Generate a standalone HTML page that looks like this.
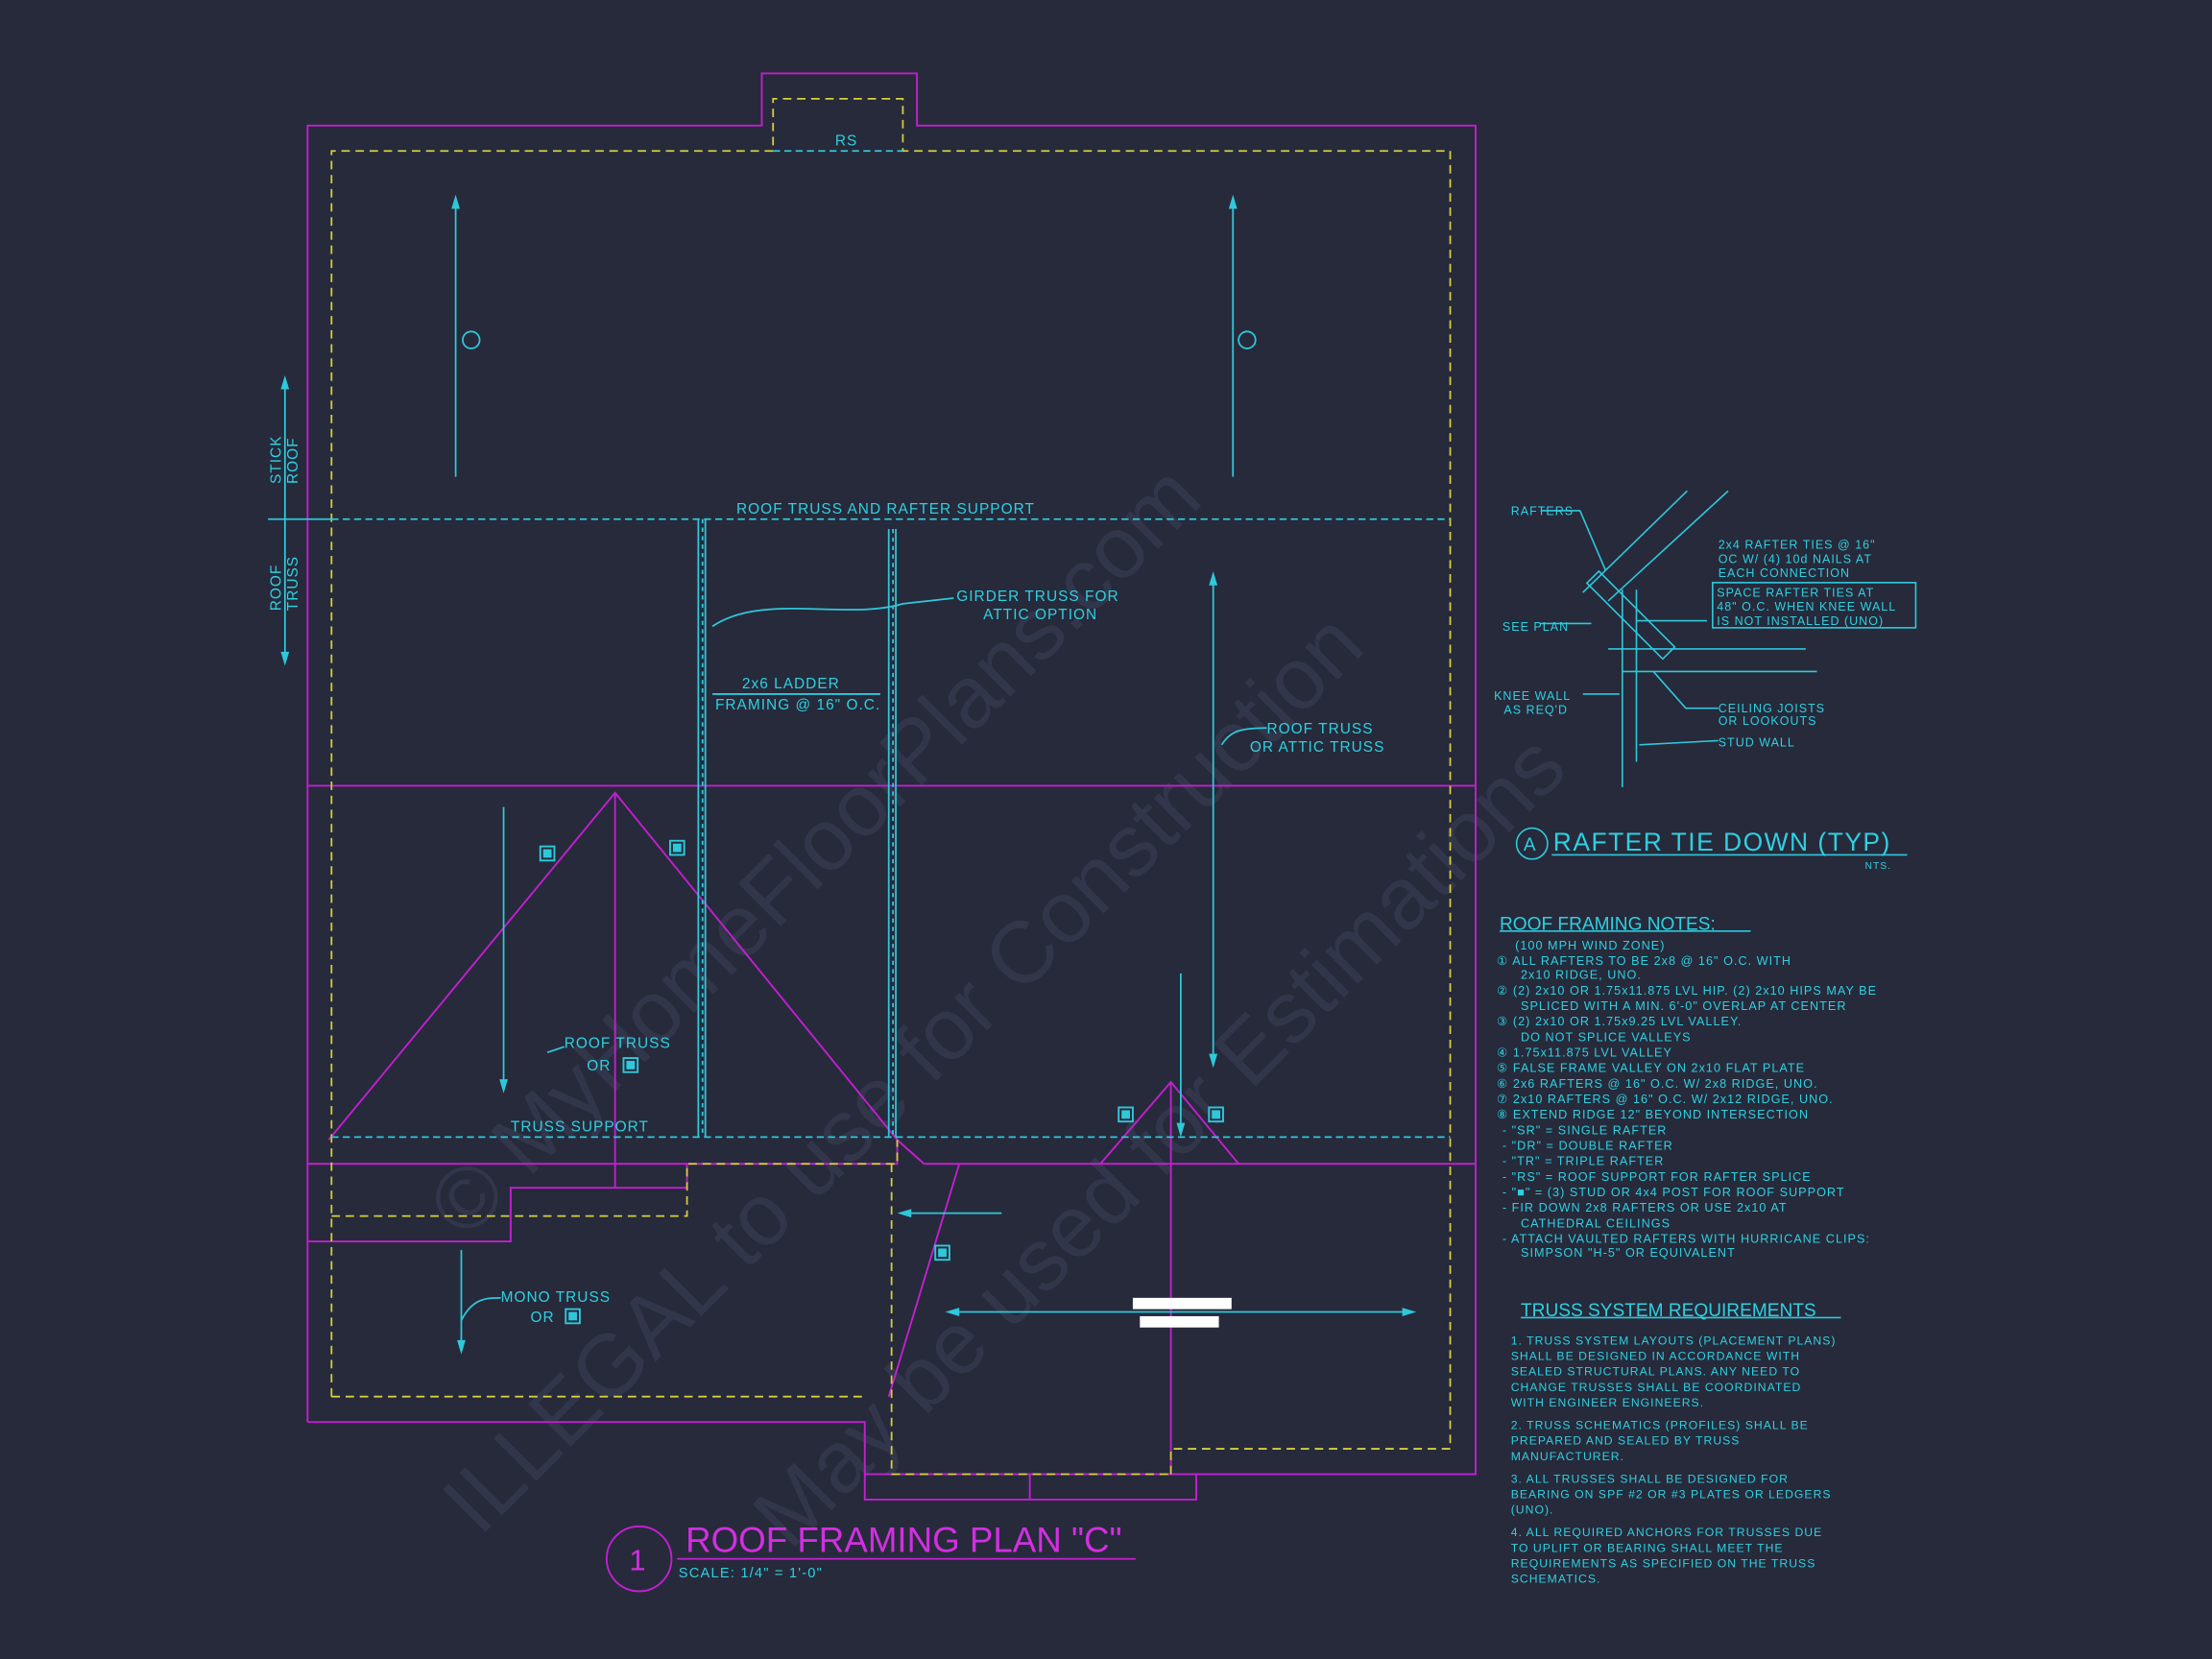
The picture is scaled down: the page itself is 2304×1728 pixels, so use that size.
<!DOCTYPE html>
<html><head><meta charset="utf-8"><style>
html,body{margin:0;padding:0;background:#262a3b;}
svg{display:block}
text{font-family:"Liberation Sans",sans-serif;fill:#2fd0e0;}
.n text{letter-spacing:0.7px}
</style></head><body>
<svg width="2304" height="1728" viewBox="0 0 1568 1176" xmlns="http://www.w3.org/2000/svg">
<rect width="1568" height="1176" fill="#262a3b"/>
<g font-family="Liberation Serif,serif">
<text x="0" y="0" font-size="62" transform="translate(330,880) rotate(-45)" style="fill:#32364a">© MyHomeFloorPlans.com</text>
<text x="0" y="0" font-size="62" transform="translate(340,1090) rotate(-45)" style="fill:#32364a">ILLEGAL to use for Construction</text>
<text x="0" y="0" font-size="62" transform="translate(560,1100) rotate(-45)" style="fill:#32364a">May be used for Estimations</text>
</g>
<g fill="none" stroke="#c21fcf" stroke-width="1.3">
<polyline points="218,1008 218,89 540,89 540,52 650,52 650,89 1046,89 1046,1045 848,1045 848,1063 613,1063 613,1008 218,1008"/>
<line x1="218" y1="557" x2="1046" y2="557"/>
<line x1="218" y1="825" x2="487" y2="825"/>
<line x1="655" y1="825" x2="1046" y2="825"/>
<polyline points="233,808 436,562 636,808"/>
<line x1="436" y1="562" x2="436" y2="842"/>
<polyline points="780,825 830,767 878,825"/>
<line x1="830" y1="767" x2="830" y2="1045"/>
<polyline points="218,880 362,880 362,842 487,842 487,825 636,825 636,808 655,825"/>
<line x1="680" y1="825" x2="630" y2="990"/>
<line x1="730" y1="1045" x2="730" y2="1063"/>
<line x1="613" y1="1045" x2="848" y2="1045"/>
</g>
<g fill="none" stroke="#d6cf3c" stroke-width="1.2" stroke-dasharray="6,4">
<polyline points="235,990 235,107 548,107 548,70 640,70 640,107 1028,107 1028,1027 830,1027 830,1045"/>
<polyline points="235,990 613,990"/>
<polyline points="235,862 487,862 487,825 636,825 636,808"/>
<polyline points="632,825 632,1045 830,1045"/>
</g>
<g fill="none" stroke="#2fc8da" stroke-width="1.2">
<line x1="235" y1="368" x2="1028" y2="368" stroke-dasharray="5,3"/>
<line x1="548" y1="107" x2="640" y2="107" stroke-dasharray="5,3"/>
<line x1="235" y1="806" x2="1028" y2="806" stroke-dasharray="5,3"/>
<line x1="495" y1="368" x2="495" y2="806"/><line x1="500" y1="368" x2="500" y2="806"/><line x1="498" y1="368" x2="498" y2="806" stroke-dasharray="3,3"/>
<line x1="630" y1="375" x2="630" y2="806"/><line x1="635" y1="375" x2="635" y2="806"/><line x1="633" y1="375" x2="633" y2="806" stroke-dasharray="3,3"/>
<line x1="323" y1="142" x2="323" y2="338"/>
<line x1="874" y1="142" x2="874" y2="338"/>
<line x1="860" y1="410" x2="860" y2="752"/>
<line x1="357" y1="572" x2="357" y2="770"/>
<line x1="837" y1="690" x2="837" y2="802"/>
<line x1="327" y1="886" x2="327" y2="956"/>
<line x1="675" y1="930" x2="1000" y2="930"/>
<line x1="505" y1="492" x2="624" y2="492"/>
<line x1="640" y1="860" x2="710" y2="860"/>
<line x1="202" y1="270" x2="202" y2="468"/>
<line x1="190" y1="368" x2="235" y2="368"/>
<path d="M505,444 C540,420 600,440 640,428 L676,424"/>
<path d="M866,528 C872,518 880,516 898,516"/>
<path d="M388,746 L400,742"/>
<path d="M327,936 C335,920 345,920 355,920"/>
<circle cx="334" cy="241" r="6"/><circle cx="884" cy="241" r="6"/>
</g>
<g fill="#2fc8da">
<polygon points="323,138 320,148 326,148"/><polygon points="874,138 871,148 877,148"/>
<polygon points="860,405 857,415 863,415"/><polygon points="860,757 857,747 863,747"/>
<polygon points="357,775 354,765 360,765"/><polygon points="837,806 834,796 840,796"/>
<polygon points="327,960 324,950 330,950"/><polygon points="670,930 680,927 680,933"/><polygon points="1004,930 994,927 994,933"/>
<polygon points="636,860 646,857 646,863"/><polygon points="202,266 199,276 205,276"/><polygon points="202,472 199,462 205,462"/>
<rect x="385" y="602" width="6" height="6"/><rect x="477" y="598" width="6" height="6"/><rect x="444" y="752" width="6" height="6"/>
<rect x="795" y="787" width="6" height="6"/><rect x="859" y="787" width="6" height="6"/><rect x="665" y="885" width="6" height="6"/><rect x="403" y="930" width="6" height="6"/>
</g>
<g fill="none" stroke="#2fc8da" stroke-width="1.3">
<rect x="383" y="600" width="10" height="10"/><rect x="475" y="596" width="10" height="10"/><rect x="442" y="750" width="10" height="10"/>
<rect x="793" y="785" width="10" height="10"/><rect x="857" y="785" width="10" height="10"/><rect x="663" y="883" width="10" height="10"/><rect x="401" y="928" width="10" height="10"/>
</g>
<rect x="803" y="920" width="70" height="8" fill="#fff"/><rect x="808" y="933" width="56" height="8" fill="#fff"/>
<g font-size="10.5" class="n">
<text x="592" y="103">RS</text>
<text x="522" y="364">ROOF TRUSS AND RAFTER SUPPORT</text>
<text x="678" y="426">GIRDER TRUSS FOR</text><text x="697" y="439">ATTIC OPTION</text>
<text x="526" y="488">2x6 LADDER</text><text x="507" y="503">FRAMING @ 16" O.C.</text>
<text x="898" y="520">ROOF TRUSS</text><text x="886" y="533">OR ATTIC TRUSS</text>
<text x="400" y="743">ROOF TRUSS</text><text x="416" y="759">OR</text>
<text x="362" y="802">TRUSS SUPPORT</text>
<text x="355" y="923">MONO TRUSS</text><text x="376" y="937">OR</text>
<text x="0" y="0" transform="translate(199,343) rotate(-90)">STICK</text>
<text x="0" y="0" transform="translate(211,343) rotate(-90)">ROOF</text>
<text x="0" y="0" transform="translate(199,433) rotate(-90)">ROOF</text>
<text x="0" y="0" transform="translate(211,433) rotate(-90)">TRUSS</text>
</g>
<circle cx="453" cy="1105" r="23" fill="none" stroke="#c21fcf" stroke-width="1.3"/>
<text x="446" y="1113" font-size="21" style="fill:#d22fe0">1</text>
<text x="486" y="1100" font-size="25" style="fill:#d22fe0">ROOF FRAMING PLAN "C"</text>
<line x1="480" y1="1105" x2="805" y2="1105" stroke="#c21fcf" stroke-width="1.3"/>
<text x="481" y="1118" font-size="10" style="letter-spacing:0.8px">SCALE: 1/4" = 1'-0"</text>
<g fill="none" stroke="#2fc8da" stroke-width="1.1">
<line x1="1122" y1="420" x2="1196" y2="348"/><line x1="1140" y1="426" x2="1225" y2="348"/>
<line x1="1150" y1="418" x2="1150" y2="558"/><line x1="1160" y1="418" x2="1160" y2="540"/>
<line x1="1150" y1="476" x2="1288" y2="476"/><line x1="1140" y1="460" x2="1280" y2="460"/>
<rect x="1150" y="398" width="12" height="76" transform="rotate(-45 1156 436)"/>
<line x1="1160" y1="440" x2="1210" y2="440"/>
<rect x="1214" y="413" width="144" height="32"/>
<path d="M1092,362 L1120,362 L1138,404"/><path d="M1092,442 L1128,442"/><path d="M1122,492 L1148,492"/>
<path d="M1172,476 L1195,502 L1218,502"/><path d="M1162,528 L1218,525"/>
<circle cx="1086" cy="598" r="11"/>
<line x1="1100" y1="606" x2="1352" y2="606"/>
<line x1="1063" y1="660" x2="1241" y2="660"/>
<line x1="1078" y1="934" x2="1305" y2="934"/>
</g>
<g font-size="8.5" class="n">
<text x="1071" y="365">RAFTERS</text>
<text x="1218" y="389">2x4 RAFTER TIES @ 16"</text><text x="1218" y="399">OC W/ (4) 10d NAILS AT</text><text x="1218" y="409">EACH CONNECTION</text>
<text x="1217" y="423">SPACE RAFTER TIES AT</text><text x="1217" y="433">48" O.C. WHEN KNEE WALL</text><text x="1217" y="443">IS NOT INSTALLED (UNO)</text>
<text x="1065" y="447">SEE PLAN</text>
<text x="1059" y="496">KNEE WALL</text><text x="1066" y="506">AS REQ'D</text>
<text x="1218" y="505">CEILING JOISTS</text><text x="1218" y="514">OR LOOKOUTS</text>
<text x="1218" y="529">STUD WALL</text>
<text x="1322" y="616" font-size="7">NTS.</text>
</g>
<text x="1080" y="603" font-size="13">A</text>
<text x="1101" y="603" font-size="18" style="letter-spacing:1px">RAFTER TIE DOWN (TYP)</text>
<g font-size="13"><text x="1063" y="659">ROOF FRAMING NOTES:</text><text x="1078" y="933">TRUSS SYSTEM REQUIREMENTS</text></g>
<g font-size="8.6" class="n">
<text x="1074" y="673">(100 MPH WIND ZONE)</text>
<text x="1061" y="684">① ALL RAFTERS TO BE 2x8 @ 16" O.C. WITH</text>
<text x="1078" y="694">2x10 RIDGE, UNO.</text>
<text x="1061" y="705">② (2) 2x10 OR 1.75x11.875 LVL HIP. (2) 2x10 HIPS MAY BE</text>
<text x="1078" y="716">SPLICED WITH A MIN. 6'-0" OVERLAP AT CENTER</text>
<text x="1061" y="727">③ (2) 2x10 OR 1.75x9.25 LVL VALLEY.</text>
<text x="1078" y="738">DO NOT SPLICE VALLEYS</text>
<text x="1061" y="749">④ 1.75x11.875 LVL VALLEY</text>
<text x="1061" y="760">⑤ FALSE FRAME VALLEY ON 2x10 FLAT PLATE</text>
<text x="1061" y="771">⑥ 2x6 RAFTERS @ 16" O.C. W/ 2x8 RIDGE, UNO.</text>
<text x="1061" y="782">⑦ 2x10 RAFTERS @ 16" O.C. W/ 2x12 RIDGE, UNO.</text>
<text x="1061" y="793">⑧ EXTEND RIDGE 12" BEYOND INTERSECTION</text>
<text x="1065" y="804">-  "SR" = SINGLE RAFTER</text>
<text x="1065" y="815">-  "DR" = DOUBLE RAFTER</text>
<text x="1065" y="826">-  "TR" = TRIPLE RAFTER</text>
<text x="1065" y="837">-  "RS" = ROOF SUPPORT FOR RAFTER SPLICE</text>
<text x="1065" y="848">-  "■" = (3) STUD OR 4x4 POST FOR ROOF SUPPORT</text>
<text x="1065" y="859">-  FIR DOWN 2x8 RAFTERS OR USE 2x10 AT</text>
<text x="1078" y="870">CATHEDRAL CEILINGS</text>
<text x="1065" y="881">-  ATTACH VAULTED RAFTERS WITH HURRICANE CLIPS:</text>
<text x="1078" y="891">SIMPSON "H-5" OR EQUIVALENT</text>
</g>
<g font-size="8.3" class="n">
<text x="1071" y="953">1. TRUSS SYSTEM LAYOUTS (PLACEMENT PLANS)</text>
<text x="1071" y="964">SHALL BE DESIGNED IN ACCORDANCE WITH</text>
<text x="1071" y="975">SEALED STRUCTURAL PLANS. ANY NEED TO</text>
<text x="1071" y="986">CHANGE TRUSSES SHALL BE COORDINATED</text>
<text x="1071" y="997">WITH ENGINEER ENGINEERS.</text>
<text x="1071" y="1013">2. TRUSS SCHEMATICS (PROFILES) SHALL BE</text>
<text x="1071" y="1024">PREPARED AND SEALED BY TRUSS</text>
<text x="1071" y="1035">MANUFACTURER.</text>
<text x="1071" y="1051">3. ALL TRUSSES SHALL BE DESIGNED FOR</text>
<text x="1071" y="1062">BEARING ON SPF #2 OR #3 PLATES OR LEDGERS</text>
<text x="1071" y="1073">(UNO).</text>
<text x="1071" y="1089">4. ALL REQUIRED ANCHORS FOR TRUSSES DUE</text>
<text x="1071" y="1100">TO UPLIFT OR BEARING SHALL MEET THE</text>
<text x="1071" y="1111">REQUIREMENTS AS SPECIFIED ON THE TRUSS</text>
<text x="1071" y="1122">SCHEMATICS.</text>
</g>
</svg>
</body></html>
